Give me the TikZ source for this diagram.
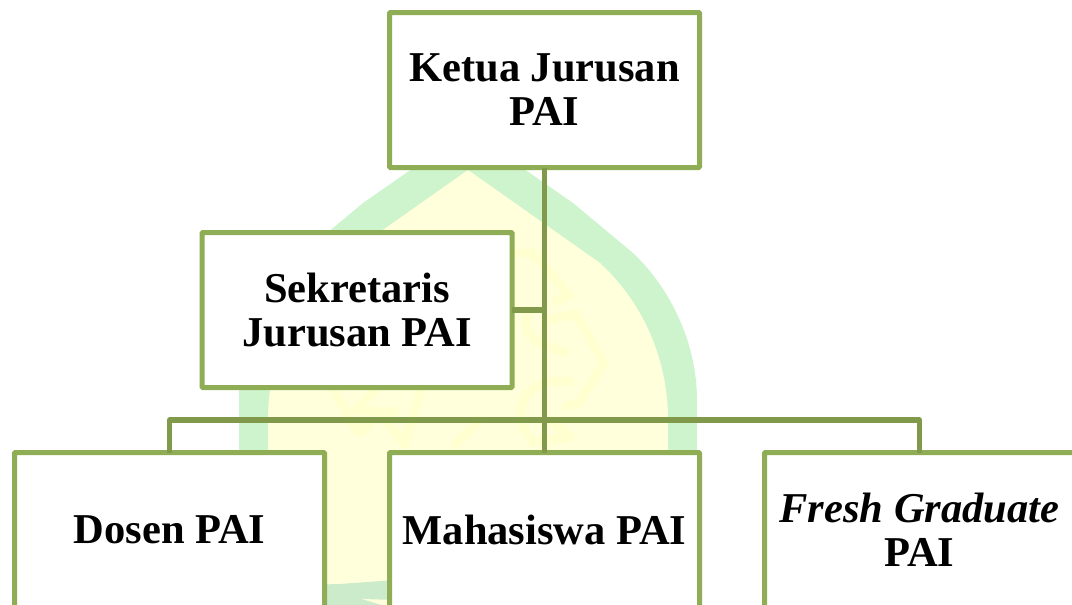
\documentclass[tikz,border=0pt]{standalone}
\usepackage{fontspec}
\setmainfont{Liberation Serif}
\definecolor{boxgreen}{HTML}{8FAD54}
\definecolor{linegreen}{HTML}{80994A}
\definecolor{domegreen}{HTML}{CEF4CE}
\definecolor{domeyellow}{HTML}{FFFFDB}
\definecolor{ornament}{HTML}{FFFFD0}
\definecolor{basegreen}{HTML}{CCEBCB}
\tikzset{
  orgbox/.style={draw=boxgreen,line width=5pt,fill=white,rounded corners=1pt,
    minimum width=310pt,minimum height=155pt,inner sep=0pt,outer sep=0pt,
    align=center,text=black,
    font=\fontsize{42.5}{44}\selectfont\bfseries},
  link/.style={draw=linegreen,line width=5.3pt,line join=round},
  orn/.style={draw=ornament,line width=9pt,line join=round,line cap=round}
}
\begin{document}
\begin{tikzpicture}[x=1pt,y=-1pt]
\useasboundingbox (0,0) rectangle (1072,605);
\clip (0,0) rectangle (1072,605);
% background emblem
\fill[domegreen] (239,620) -- (239,400) .. controls (239,345) and (264,290) .. (303,253)
  -- (363,203) -- (468,130) -- (573,203) -- (633,253)
  .. controls (672,290) and (697,345) .. (697,400) -- (697,620) -- cycle;
\fill[domeyellow] (268,620) -- (268,420) .. controls (268,355) and (296,300) .. (336,263)
  -- (468,170) -- (600,263) .. controls (640,300) and (668,355) .. (668,420) -- (668,620) -- cycle;
\draw[orn] (517,253) -- (533,253) -- (570,296) -- (555,301);
\draw[orn] (548,320) -- (576,314) -- (604,363) -- (578,404) -- (566,406);
\draw[orn] (528,312) .. controls (522,335) and (535,345) .. (565,352);
\draw[orn] (570,382) .. controls (535,378) and (515,395) .. (522,425) -- (532,442) -- (570,437) -- (550,420);
\draw[orn] (335,392) -- (358,432);
\draw[orn] (375,390) -- (355,410) -- (395,412);
\draw[orn] (420,390) -- (405,445);
\draw[orn] (362,432) -- (380,412) -- (402,440);
\draw[orn] (480,420) -- (455,445);
\fill[basegreen] (320,584.5) -- (340,584) -- (395,580) -- (395,610) -- (320,610) -- cycle;
\fill[domeyellow] (362,599) -- (395,600) -- (395,606) -- (385,606) -- cycle;
% boxes
\node[orgbox] (ketua) at (544.5,90) {Ketua Jurusan\\PAI};
\node[orgbox] (sek) at (357,310) {Sekretaris\\Jurusan PAI};
\node[orgbox] (dosen) at (169.5,530) {Dosen PAI};
\node[orgbox] (mhs) at (544.5,530) {Mahasiswa PAI};
\node[orgbox] (fresh) at (919.5,530) {\textit{Fresh Graduate}\\PAI};
\coordinate (bus) at (544.5,420);
% connectors
\draw[link] (ketua.south) -- (mhs.north);
\draw[link] (sek.east) -- (sek.east -| ketua.south);
\draw[link] (dosen.north) -- (dosen.north |- bus) -- (fresh.north |- bus) -- (fresh.north);
\end{tikzpicture}
\end{document}
